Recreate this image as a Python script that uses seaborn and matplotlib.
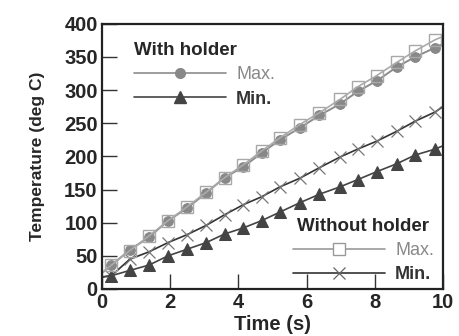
import matplotlib
matplotlib.use("Agg")
import matplotlib.pyplot as plt
from matplotlib.lines import Line2D
import seaborn as sns
import pandas as pd

sns.set_style("ticks")
plt.rcParams["font.family"] = ["Liberation Sans", "DejaVu Sans"]
plt.rcParams["font.weight"] = "bold"

# time samples (first and last points are where the lines meet the frame)
time_s = [0.0, 0.28, 0.82, 1.38, 1.94, 2.5, 3.06, 3.6, 4.14, 4.68, 5.22,
          5.8, 6.38, 6.98, 7.5, 8.06, 8.65, 9.18, 9.77, 10.0]
with_max = [24, 36, 59, 78, 103, 122, 145, 168, 184, 205, 225,
            243, 262, 279, 298, 314, 335, 350, 364, 370]
with_min = [18, 20, 28, 36, 50, 60, 70, 83, 92, 103, 116,
            130, 143, 154, 165, 177, 189, 202, 211, 216]
without_max = [24, 36, 58, 80, 103, 124, 146, 168, 187, 208, 228,
               248, 266, 286, 305, 322, 342, 359, 376, 381]
without_min = [18, 20, 45, 56, 70, 82, 96, 112, 127, 139, 154,
               167, 183, 199, 211, 223, 238, 253, 267, 275]

df = pd.DataFrame({"t": time_s, "wmax": with_max, "wmin": with_min,
                   "nmax": without_max, "nmin": without_min})

fig, ax = plt.subplots(figsize=(4.59, 3.36), dpi=100)
fig.subplots_adjust(left=0.222, right=0.965, top=0.929, bottom=0.140)

mk = slice(1, -1)
sns.lineplot(data=df, x="t", y="nmin", ax=ax, color="#333333", lw=1.2,
             marker="x", ms=9, mec="#777777", mew=0.9, markevery=mk)
sns.lineplot(data=df, x="t", y="wmin", ax=ax, color="#444444", lw=1.2,
             marker="^", ms=8, mfc="#444444", mec="#444444", markevery=mk)
sns.lineplot(data=df, x="t", y="wmax", ax=ax, color="#8c8c8c", lw=1.4,
             marker="o", ms=7, mfc="#888888", mec="#888888", markevery=mk)
sns.lineplot(data=df, x="t", y="nmax", ax=ax, color="#aaaaaa", lw=1.2,
             marker="s", ms=8, mfc="none", mec="#a8a8a8", mew=1.0,
             markevery=mk)

ax.set_xlim(0, 10)
ax.set_ylim(0, 400)
ax.set_xticks([0, 2, 4, 6, 8, 10])
ax.set_yticks(range(0, 401, 50))
ax.tick_params(direction="in", length=11, width=1, color="#333333",
               labelsize=14.5, pad=3)
for lab in ax.get_xticklabels() + ax.get_yticklabels():
    lab.set_fontweight("bold")
for sp in ax.spines.values():
    sp.set_linewidth(1.6)
    sp.set_color("#222222")
ax.set_xlabel("Time (s)", fontsize=14.5, fontweight="bold", labelpad=2)
ax.set_ylabel("Temperature (deg C)", fontsize=12.5, fontweight="bold",
              labelpad=14)

h_wmax = Line2D([], [], color="#8c8c8c", lw=1.2, marker="o", ms=7,
                mfc="#888888", mec="#888888")
h_wmin = Line2D([], [], color="#444444", lw=1.2, marker="^", ms=8,
                mfc="#444444", mec="#444444")
h_nmax = Line2D([], [], color="#999999", lw=1.2, marker="s", ms=8,
                mfc="white", mec="#999999")
h_nmin = Line2D([], [], color="#333333", lw=1.2, marker="x", ms=9,
                mec="#666666", mew=0.9)

leg_kw = dict(frameon=False, handlelength=5.1, handletextpad=0.55,
              borderpad=0, labelspacing=0.4, fontsize=13,
              title_fontproperties={"weight": "bold", "size": 13.5})
leg1 = ax.legend(handles=[h_wmax, h_wmin], labels=["Max.", "Min."],
                 title="With holder", loc="upper left",
                 bbox_to_anchor=(0.068, 0.965), alignment="left", **leg_kw)
for txt, c, w in zip(leg1.get_texts(), ["#888888", "#333333"],
                     ["normal", "bold"]):
    txt.set_color(c)
    txt.set_fontweight(w)
ax.add_artist(leg1)

leg2 = ax.legend(handles=[h_nmax, h_nmin], labels=["Max.", "Min."],
                 title="Without holder", loc="lower right",
                 bbox_to_anchor=(1.0, -0.012), **leg_kw)
for txt, c, w in zip(leg2.get_texts(), ["#888888", "#333333"],
                     ["normal", "bold"]):
    txt.set_color(c)
    txt.set_fontweight(w)

plt.savefig("out.png", dpi=100)
